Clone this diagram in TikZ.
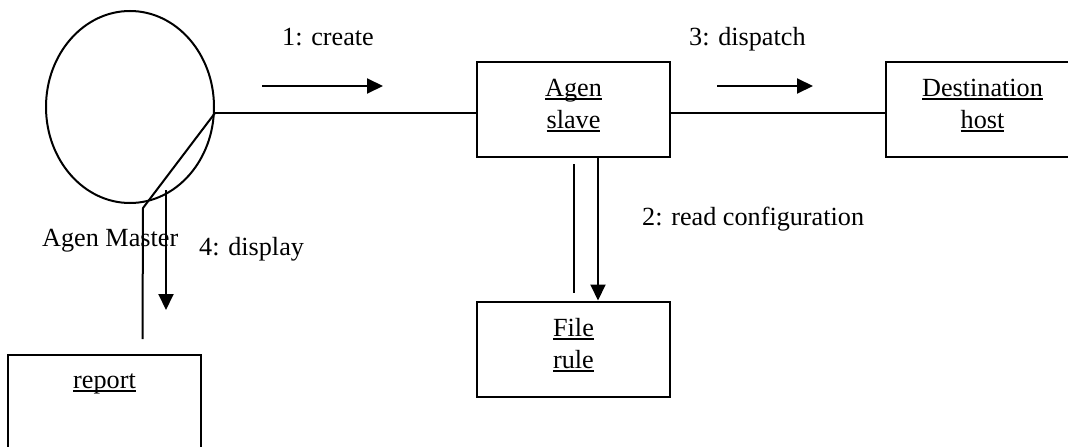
\documentclass[tikz,border=0pt]{standalone}
\usepackage{fontspec}
\setmainfont{Liberation Serif}
\usetikzlibrary{arrows.meta,calc,shapes.geometric}

% underline drawn at a fixed depth below the baseline
\newcommand\ulbox[1]{\leavevmode\setbox0\hbox{#1}\rlap{\rule[-3.6pt]{\wd0}{1.7pt}}\box0}

\begin{document}
\begin{tikzpicture}[x=1pt,y=-1pt,
  every node/.style={font=\fontsize{26.2}{32}\selectfont},
  obj/.style={draw,line width=2pt,rectangle,minimum width=193pt,minimum height=95pt,inner sep=0pt},
  objtext/.style={anchor=base,inner sep=0pt},
  msg/.style={anchor=base west,inner sep=0pt},
  link/.style={line width=2pt},
  flow/.style={line width=2pt,-{Triangle[length=16pt,width=15pt]}}]
\useasboundingbox (0,0) rectangle (1068,447);

% actor and objects
\node[draw,ellipse,line width=2pt,minimum width=168pt,minimum height=192pt,inner sep=0pt] (master) at (130,107) {};
\node[obj] (slave) at (573.5,109.5) {};
\node[obj] (dest)  at (982.5,109.5) {};
\node[obj] (file)  at (573.5,349) {};
\node[obj] (report) at (104.5,402.5) {};

\node[objtext] at ($(slave.north)+(0,35)$) {\begin{tabular}[t]{@{}c@{}}\ulbox{Agen}\\\ulbox{slave}\end{tabular}};
\node[objtext] at ($(dest.north)+(0,35)$) {\begin{tabular}[t]{@{}c@{}}\ulbox{Destination}\\\ulbox{host}\end{tabular}};
\node[objtext] at ($(file.north)+(0,36)$) {\begin{tabular}[t]{@{}c@{}}\ulbox{File}\\\ulbox{rule}\end{tabular}};
\node[objtext] at ($(report.north)+(0,34)$) {\ulbox{report}};

\node[msg] (mastername) at (42,246) {Agen Master};

% links between objects
\coordinate (mout) at ($(master.east)+(0,6)$);
\draw[link] (mout) -- (slave.west |- mout);
\draw[link] (slave.east |- mout) -- (dest.west |- mout);
\coordinate (mbend) at (143,208);
\draw[link] (mout) -- (mbend) -- ($(report.north)+(38,-15)$);
\draw[link] ($(slave.south)+(0.5,6)$) -- ($(file.north)+(0.5,-8)$);

% messages
\coordinate (c1a) at (262,86);
\coordinate (c1b) at (383,86);
\draw[flow] (c1a) -- (c1b);
\node[msg] (m1) at (282,45) {1: create};

\coordinate (c3a) at (717,86);
\coordinate (c3b) at (813,86);
\draw[flow] (c3a) -- (c3b);
\node[msg] (m3) at (689,45) {3: dispatch};

\draw[flow] ($(slave.south)+(24.5,0)$) -- ($(file.north)+(24.5,0)$);
\node[msg] (m2) at (642,225) {2: read configuration};

\coordinate (c4a) at (166,190);
\coordinate (c4b) at (166,310);
\draw[flow] (c4a) -- (c4b);
\node[msg] (m4) at (199,255) {4: display};
\end{tikzpicture}
\end{document}
